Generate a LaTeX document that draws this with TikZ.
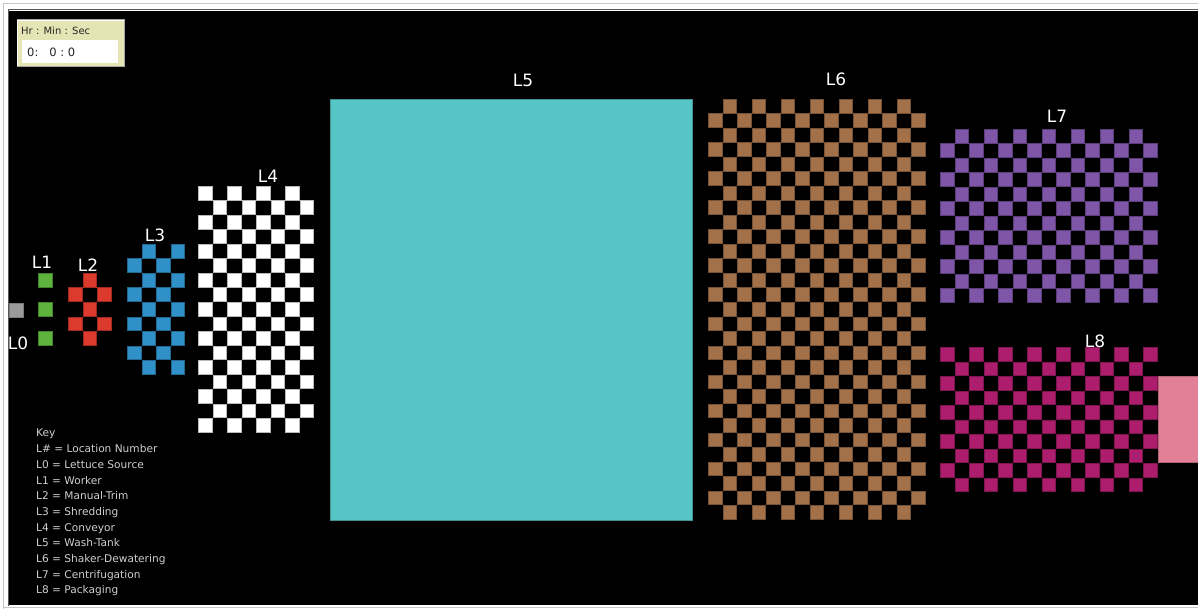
\documentclass[tikz,border=0pt]{standalone}
\usepackage{fontspec}
\setmainfont{DejaVu Sans}
\newfontfamily\keyfont{DejaVu Sans}
\definecolor{cgreen}{HTML}{5DB33E}
\definecolor{cred}{HTML}{DC3A2C}
\definecolor{cblue}{HTML}{3090C8}
\definecolor{ccyan}{HTML}{56C5C5}
\definecolor{cbrown}{HTML}{A2714A}
\definecolor{cpurple}{HTML}{7F55A8}
\definecolor{cmag}{HTML}{AD1D6D}
\definecolor{cpink}{HTML}{E17F97}
\definecolor{cgray}{HTML}{9A9A9A}
\definecolor{ctan}{HTML}{E4E4B4}
\definecolor{ckey}{HTML}{CFCFCF}
% x0, y0, cols, rows, parity, colour
\newcommand{\cboard}[6]{%
  \foreach \r in {1,...,#4}{%
    \foreach \c in {1,...,#3}{%
      \pgfmathtruncatemacro\cbp{mod(\r+\c+#5,2)}%
      \ifnum\cbp=0
        \filldraw[fill=#6, draw=#6!72!black, line width=0.9pt]
          ({#1+(\c-1)*14.5+0.45},{#2+(\r-1)*14.5+0.45}) rectangle ++(13.6,13.6);
      \fi
    }%
  }%
}
\tikzset{
  lbl/.style={text=white, font=\fontsize{17}{20}\selectfont, inner sep=0pt},
  keytxt/.style={text=ckey, font=\keyfont\fontsize{10.6}{15.7}\selectfont, align=left, anchor=north west, inner sep=0pt},
}
\begin{document}
\begin{tikzpicture}[x=1pt,y=-1pt]
\useasboundingbox (0,0) rectangle (1198,609);
\fill[white] (0,0) rectangle (1198,609);
% frame
\draw[gray!45, line width=1pt] (3.5,1198) -- (3.5,3.5) -- (1198,3.5);
\draw[gray!45, line width=1pt] (3.5,607) -- (1198,607);
\draw[gray!70!black, line width=1.2pt] (8.5,606) -- (8.5,9.8) -- (1198,9.8);
\fill[black] (9,11) rectangle (1198,605);
% clock
\filldraw[fill=ctan, draw=gray!70, line width=1pt] (17,20) rectangle (124,67);
\draw[white, line width=1pt] (17.5,66.5) -- (17.5,20.5) -- (123.5,20.5);
\fill[white] (22,40) rectangle (118,63);
\node[anchor=west, inner sep=0pt, text=black!85, font=\fontsize{10}{12}\selectfont] (clockhead) at (21,31) {Hr : Min : Sec};
\node[anchor=west, inner sep=0pt, text=black!85, font=\fontsize{11.5}{13}\selectfont] (clocktime) at (27,52) {0:\ \ \ 0\ :\ 0};
% L0
\filldraw[fill=cgray, draw=cgray!80!black, line width=0.9pt] (9,303.5) rectangle (23.5,317);
% boards
\cboard{38}{273}{1}{5}{0}{cgreen}
\cboard{68}{273}{3}{5}{1}{cred}
\cboard{127}{244}{4}{9}{1}{cblue}
\cboard{198}{186}{8}{17}{0}{white}
\cboard{708}{99}{15}{29}{1}{cbrown}
\cboard{940}{129}{15}{12}{1}{cpurple}
\cboard{940}{347}{15}{10}{0}{cmag}
% L5 wash tank
\filldraw[fill=ccyan, draw=ccyan!75!black, line width=1pt] (330,99.5) rectangle (692.5,520);
% packaging exit
\filldraw[fill=cpink, draw=cpink!80!black, line width=0.8pt] (1158.5,376.5) rectangle (1199,462);
% labels
\node[lbl] (l0) at (18,343) {L0};
\node[lbl] (l1) at (42,262) {L1};
\node[lbl] (l2) at (88,265) {L2};
\node[lbl] (l3) at (155,235) {L3};
\node[lbl] (l4) at (268,176) {L4};
\node[lbl] (l5) at (523,80) {L5};
\node[lbl] (l6) at (836,79) {L6};
\node[lbl] (l7) at (1057,116) {L7};
\node[lbl] (l8) at (1095,341) {L8};
% key
\node[keytxt] (key) at (36,429) {Key\\L\# = Location Number\\L0 = Lettuce Source\\L1 = Worker\\L2 = Manual-Trim\\L3 = Shredding\\L4 = Conveyor\\L5 = Wash-Tank\\L6 = Shaker-Dewatering\\L7 = Centrifugation\\L8 = Packaging};
\end{tikzpicture}
\end{document}
